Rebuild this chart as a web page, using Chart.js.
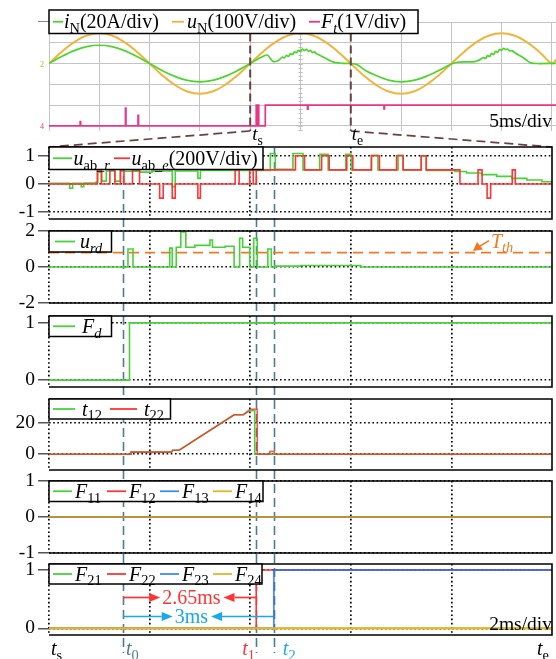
<!DOCTYPE html>
<html>
<head>
<meta charset="utf-8">
<script src="https://cdn.jsdelivr.net/npm/chart.js@4.4.0/dist/chart.umd.min.js"></script>
<style>
  html, body { margin: 0; padding: 0; background: #fff; }
  #wrap { position: relative; width: 556px; height: 659px; overflow: hidden; background: #fff; }
  #wrap canvas { position: absolute; left: 0; top: 0; }
</style>
</head>
<body>
<div id="wrap"></div>
<script>
// ---------------- overview record (5 ms/div), time in ms ----------------
const scopeT = [0,1.25,2.5,3.75,5,6.25,7.5,8.75,10,11.25,12.5,13.75,15,16.25,17.5,18.75,20,
  21.25,22.5,23.75,25,26.25,27.5,28.75,30,31.25,32.5,33.75,35,36.25,37.5,38.75,40,
  41.25,42.5,43.75,45,46.25,47.5,48.75,50,50.4];
// grid voltage u_N in V (100 V/div)
const uN = [0,56,103,135,146,135,103,56,0,-56,-103,-135,-146,-135,-103,-56,0,
  56,103,135,146,135,103,56,0,-56,-103,-135,-146,-135,-103,-56,0,
  56,103,135,146,135,103,56,0,18];
// grid current i_N in A (20 A/div)
const iNT = [0,1.25,2.5,3.75,5,6.25,7.5,8.75,10,11.25,12.5,13.75,15,16.25,17.5,18.75,20,
  20.6,21.2,21.7,22.0,22.3,22.8,23.2,23.4,23.6,23.8,24.0,24.2,24.4,24.6,24.8,25.0,25.2,25.4,25.6,25.8,26.0,26.2,26.4,26.6,
  27.0,27.5,28.0,28.5,29.2,30,30.6,31.5,32.5,33.75,35,36.25,37.5,38.75,40,
  40.6,41.5,42.3,42.8,43.2,43.4,43.6,43.8,44.0,44.2,44.4,44.6,44.8,45.0,45.2,45.4,45.6,45.8,46.0,46.4,47.0,47.5,47.9,48.5,50.4];
const iN = [0,6.7,12.4,16.3,17.6,16.3,12.4,6.7,0,-6.7,-12.4,-16.3,-17.6,-16.3,-12.4,-6.7,0,
  3.5,6.5,8.2,5,1.8,3,6.2,5.4,7.8,6.8,9.5,8.6,11.2,10.4,12.8,11.9,13.8,12.6,13.6,11.8,12.6,10.6,11.2,9.4,
  7.5,5,2.5,0.8,0.2,0,-1,-7,-11.5,-16,-17.6,-16.3,-12.4,-6.7,-0.5,
  1.2,1.6,1.8,3.5,5.8,5,7.6,6.8,9.6,8.8,11.6,10.8,13.6,12.8,14.6,13.4,13.9,12.2,12.4,9.8,6.5,3,0.6,0,0.2];
// trip signal F_t in V (1 V/div)
const FtT = [0,3.1,3.15,7.6,7.65,8.85,8.9,20.6,20.65,20.8,20.85,21.5,25.7,25.75,33.3,33.35,50.4];
const Ft  = [0,0.2,0,0.85,0,0.5,0,1.0,0,1.0,0,1.0,0.8,1.0,0.82,1.0,1.0];

// window shown below: t_s .. t_e on the overview record (ms)
const tS = 20, tE = 30;
// event instants inside the window (ms after t_s)
const markT = { t0: 1.47, t1: 4.12, t2: 4.47 };
const windowMs = 10;

// ---------------- zoomed window, 2 ms/div, time in ms after t_s ----------------
// u_ab_e (red) and u_ab_r (green), 200 V/div
const uabeT = [0,0.96,1.04,1.21,1.31,1.42,1.49,1.66,1.80,2.20,2.27,2.45,2.51,2.96,3.01,3.70,3.78,3.99,4.06,4.12,
  4.90,5.08,5.42,5.57,5.92,6.04,6.41,6.57,6.91,7.04,7.40,7.50,8.17,8.53,8.61,8.71,8.78,9.21,9.27,10];
const uabe  = [0,0.5,0,0.5,0,0.5,0,0.5,0,-0.5,0,-0.5,0,-0.5,0,0.5,0,0.5,0,0.5,
  1,0.5,1,0.5,1,0.5,1,0.5,1,0.5,1,0.5,0,0.5,0,-0.5,0,0.5,0,0];
const uabrT = [0,0.41,0.47,0.64,0.69,0.93,0.97,1.05,1.14,1.31,1.42,1.80,2.05,2.45,2.51,2.96,3.01,
  4.40,4.50,4.85,5.05,5.38,5.55,5.90,6.01,6.41,6.54,6.94,7.04,7.40,7.50,8.07,8.3,8.6,8.9,9.2,9.5,9.8,10];
const uabr  = [0.02,-0.15,0.02,-0.1,0.03,0.06,0.42,0.1,0.46,0.1,0.45,0.42,0.46,-0.1,0.46,0.2,0.48,
  1.08,0.52,1.08,0.5,1.05,0.5,1.05,0.5,1.02,0.5,1.02,0.5,1.0,0.48,0.44,0.39,0.33,0.27,0.2,0.14,0.08,0.06];
// detection residual u_rd and its threshold
const urdT = [0,1.57,1.67,2.40,2.45,2.53,2.62,2.72,2.9,3.2,3.25,3.5,3.68,3.79,3.85,3.99,4.07,4.14,4.35,4.42,4.49,5.0,6.2,10];
const urd  = [0,1.0,0,1.05,0,1.1,1.95,1.1,1.2,1.5,1.1,1.15,0,1.6,1.1,0,1.6,0,1.0,0,0.05,0.08,0,0];
const Tth = 0.8;
// fault detection flag
const FdT = [0,1.60,10];
const Fd  = [0,1,1];
// fault timers t12 (green) and t22 (red)
const t22T = [0,1.63,1.63,2.43,2.46,2.58,2.62,3.68,3.86,4.00,4.14,4.14,4.39,4.39,4.48,4.48,10];
const t22  = [0,0,1.3,1.3,2.5,2.5,3.2,25,25,28.5,28.5,0,0,1.7,1.7,0,0];
const t12T = [0,1.63,1.63,2.43,2.46,2.58,2.62,3.68,3.86,4.00,4.09,4.09,10];
const t12  = [0,0,1.3,1.3,2.5,2.5,3.2,25,25,27.6,27.6,0,0];
// location flags of the first and second leg
const F1xT = [0,10];
const F11 = [0,0], F12 = [0,0], F13 = [0,0], F14 = [0,0];
const F2xT = [0,10];
const F21 = [0,0], F24 = [0,0];
const F22T = [0,markT.t1,10], F22 = [0,1,1];
const F23T = [0,markT.t2,10], F23 = [0,1,1];

// ---------------- styling ----------------
const W = 556, H = 659;
const SERIF = '"Liberation Serif","Times New Roman",serif';
const C = {
  green: '#47d13a', red: '#ff3535', redSoft: 'rgba(255,45,45,0.82)', blue: 'rgba(40,110,240,0.8)', blueSolid: '#3b8cf0',
  gold: '#e6b52a', olive: 'rgba(190,150,45,0.9)', orange: '#f07a20', tline: '#4e7d8f', arrowBlue: '#18a8ec',
  brown: '#6b4040', iN: '#4bd62c', uN: '#f2b33a', Ft: '#e83585', grid: '#c4c4c4'
};
const AREA = {
  top: { left: 49, right: 556, top: 22, bottom: 131 },
  p1: { top: 147, bottom: 219 },
  p2: { top: 231, bottom: 303 },
  p3: { top: 316, bottom: 387 },
  p4: { top: 399, bottom: 470 },
  p5: { top: 481, bottom: 553 },
  p6: { top: 564, bottom: 635 }
};
const LOW_L = 49, LOW_R = 552;

const pts = (T, V, k = 1, off = 0) => T.map((t, i) => ({ x: t, y: V[i] / k + off }));
function series(color, data, extra) {
  return Object.assign({ data, borderColor: color, backgroundColor: color, borderWidth: 1.6,
    pointRadius: 0, fill: false, tension: 0 }, extra || {});
}

// text with italic parts and subscripts: styles 'i' italic, 'r' roman, 's' sub roman, 'si' sub italic
function drawRich(ctx, parts, x, y, size, color) {
  let cx = x;
  ctx.fillStyle = color;
  ctx.textAlign = 'left';
  ctx.textBaseline = 'alphabetic';
  for (const [txt, st] of parts) {
    const sub = st[0] === 's';
    const it = st.indexOf('i') >= 0;
    const fs = sub ? size * 0.72 : size;
    ctx.font = (it ? 'italic ' : '') + fs + 'px ' + SERIF;
    ctx.fillText(txt, cx, y + (sub ? size * 0.24 : 0));
    cx += ctx.measureText(txt).width;
  }
  return cx;
}

function drawLegend(ctx, chart, lg) {
  const [x1, y1, x2, y2] = lg.box;
  ctx.save();
  ctx.setLineDash([]);
  ctx.fillStyle = '#fff';
  ctx.fillRect(x1, y1, x2 - x1, y2 - y1);
  ctx.strokeStyle = '#000';
  ctx.lineWidth = 1.5;
  ctx.strokeRect(x1, y1, x2 - x1, y2 - y1);
  const cy = (y1 + y2) / 2;
  for (const it of lg.items) {
    const ds = chart.data.datasets[it.ds];
    ctx.strokeStyle = it.color || ds.borderColor;
    ctx.lineWidth = 1.8;
    ctx.beginPath(); ctx.moveTo(it.from, cy); ctx.lineTo(it.to, cy); ctx.stroke();
    drawRich(ctx, it.parts, it.tx, cy + lg.size * 0.33, lg.size, '#000');
  }
  ctx.restore();
}

function decorPlugin(spec) {
  return {
    id: 'decor',
    beforeDatasetsDraw(chart) { if (spec.under) { chart.ctx.save(); spec.under(chart); chart.ctx.restore(); } },
    afterDatasetsDraw(chart) {
      const ctx = chart.ctx, a = chart.chartArea;
      ctx.save();
      if (spec.frame) {
        ctx.setLineDash([]);
        ctx.strokeStyle = '#000'; ctx.lineWidth = 1.6;
        ctx.beginPath();
        ctx.moveTo(a.left, a.top); ctx.lineTo(a.right, a.top);
        ctx.lineTo(a.right, a.bottom); ctx.lineTo(a.left, a.bottom);
        ctx.stroke();
      }
      if (spec.over) spec.over(chart);
      if (spec.legend) drawLegend(ctx, chart, spec.legend);
      if (spec.top) spec.top(chart);
      ctx.restore();
    }
  };
}

const wrap = document.getElementById('wrap');
function addCanvas() {
  const c = document.createElement('canvas');
  c.width = W; c.height = H;
  c.style.width = W + 'px'; c.style.height = H + 'px';
  wrap.appendChild(c);
  return c.getContext('2d');
}

function lowerOptions(area, yMin, yMax, yTicks) {
  return {
    responsive: false, animation: false, devicePixelRatio: 1,
    layout: { padding: { left: 0, right: W - LOW_R, top: area.top, bottom: H - area.bottom } },
    plugins: { legend: { display: false }, tooltip: { enabled: false } },
    scales: {
      x: {
        type: 'linear', min: 0, max: windowMs,
        afterFit: s => { s.height = 0; },
        afterBuildTicks: s => { s.ticks = [0, 2, 4, 6, 8].map(v => ({ value: v })); },
        ticks: { display: false },
        grid: { color: '#000', lineWidth: 1.7, drawTicks: false },
        border: { display: false, dash: [1.6, 2.6] }
      },
      y: {
        type: 'linear', min: yMin, max: yMax,
        afterFit: s => { s.width = LOW_L; },
        afterBuildTicks: s => { s.ticks = yTicks.map(v => ({ value: v })); },
        ticks: { font: { family: SERIF, size: 19.5 }, color: '#000', padding: 3 },
        grid: { color: '#000', lineWidth: 1.5, tickLength: 11, tickColor: '#555', tickWidth: 1.5 },
        border: { display: false, dash: [1.6, 2.6] }
      }
    }
  };
}

// ---------------- overview chart ----------------
const ctxTop = addCanvas();
const topChart = new Chart(ctxTop, {
  type: 'line',
  data: { datasets: [
    series(C.Ft, pts(FtT, Ft, 1, -3), { stepped: 'before', borderWidth: 1.7 }),
    series(C.iN, pts(iNT, iN, 20), { tension: 0.3, borderWidth: 1.7 }),
    series(C.uN, pts(scopeT, uN, 100), { tension: 0.4, borderWidth: 2 })
  ] },
  options: {
    responsive: false, animation: false, devicePixelRatio: 1,
    layout: { padding: { left: 0, right: W - AREA.top.right, top: AREA.top.top, bottom: H - AREA.top.bottom } },
    plugins: { legend: { display: false }, tooltip: { enabled: false } },
    scales: {
      x: { type: 'linear', min: 0, max: 50.4, afterFit: s => { s.height = 0; },
        afterBuildTicks: s => { s.ticks = [0,5,10,15,20,25,30,35,40,45,50].map(v => ({ value: v })); },
        ticks: { display: false }, grid: { color: C.grid, lineWidth: 1, drawTicks: false }, border: { display: false } },
      y: { type: 'linear', min: -3.25, max: 2, afterFit: s => { s.width = AREA.top.left; },
        afterBuildTicks: s => { s.ticks = [-3,-2,-1,0,1,2].map(v => ({ value: v })); },
        ticks: { display: false }, grid: { color: C.grid, lineWidth: 1, drawTicks: false }, border: { display: false } }
    }
  },
  plugins: [decorPlugin({
    under(chart) {
      // minor graticule marks on the centre time line
      const ctx = chart.ctx, xc = Math.round(chart.scales.x.getPixelForValue(25)) + 0.5, y = chart.scales.y;
      ctx.strokeStyle = '#bdbdbd'; ctx.lineWidth = 1;
      ctx.beginPath();
      for (let v = -3.2; v <= 2; v += 0.2) {
        const py = Math.round(y.getPixelForValue(v)) + 0.5;
        ctx.moveTo(xc - 2, py); ctx.lineTo(xc + 2, py);
      }
      ctx.stroke();
    },
    over(chart) {
      const ctx = chart.ctx, x = chart.scales.x, a = chart.chartArea;
      // channel markers
      ctx.strokeStyle = '#7a8a9a'; ctx.lineWidth = 1;
      ctx.beginPath(); ctx.moveTo(38, 21.5); ctx.lineTo(49, 21.5); ctx.stroke();
      ctx.font = '8px ' + SERIF; ctx.textAlign = 'left';
      ctx.fillStyle = '#b0c020'; ctx.fillText('2', 40, chart.scales.y.getPixelForValue(0) + 3);
      ctx.fillStyle = C.Ft; ctx.fillText('4', 40, chart.scales.y.getPixelForValue(-3) + 3);
      // window bounds t_s, t_e and lines to the zoomed panels
      const xs = x.getPixelForValue(tS), xe = x.getPixelForValue(tE);
      ctx.strokeStyle = C.brown; ctx.lineWidth = 2; ctx.setLineDash([8, 4]);
      ctx.beginPath();
      ctx.moveTo(xs, 33.5); ctx.lineTo(xs, a.bottom);
      ctx.moveTo(xe, 33.5); ctx.lineTo(xe, a.bottom);
      ctx.stroke();
      ctx.lineWidth = 1.7; ctx.setLineDash([9, 5]);
      ctx.beginPath();
      ctx.moveTo(xs, a.bottom); ctx.lineTo(LOW_L, AREA.p1.top);
      ctx.moveTo(xe, a.bottom); ctx.lineTo(LOW_R, AREA.p1.top);
      ctx.stroke();
      ctx.setLineDash([]);
      drawRich(ctx, [['t', 'i'], ['s', 's']], xs + 2, 140, 19, '#000');
      drawRich(ctx, [['t', 'i'], ['e', 's']], xe + 1, 140, 19, '#000');
      ctx.font = '19.5px ' + SERIF; ctx.fillStyle = '#000'; ctx.textAlign = 'right';
      ctx.fillText('5ms/div', 552, 126.5);
    },
    legend: { box: [49, 10, 418, 33.5], size: 20, items: [
      { ds: 1, from: 53, to: 63, tx: 64, parts: [['i', 'i'], ['N', 's'], ['(20A/div)', 'r']] },
      { ds: 2, from: 172, to: 184, tx: 187, parts: [['u', 'i'], ['N', 's'], ['(100V/div)', 'r']] },
      { ds: 0, from: 309, to: 320, tx: 321, parts: [['F', 'i'], ['t', 'si'], ['(1V/div)', 'r']] }
    ] }
  })]
});

// ---------------- panel 1: u_ab ----------------
const ctx1 = addCanvas();
const p1 = new Chart(ctx1, {
  type: 'line',
  data: { datasets: [
    series(C.red, pts(uabeT, uabe), { stepped: 'before' }),
    series(C.green, pts(uabrT, uabr), { stepped: 'before' })
  ] },
  options: lowerOptions(AREA.p1, -1.24, 1.31, [-1, 0, 1]),
  plugins: [decorPlugin({
    frame: true,
    under(chart) {
      // event instants t0, t1, t2 through all zoomed panels
      const ctx = chart.ctx, x = chart.scales.x;
      ctx.strokeStyle = C.tline; ctx.lineWidth = 1.6; ctx.setLineDash([9, 5]);
      ctx.beginPath();
      for (const k of ['t0', 't1', 't2']) {
        const px = Math.round(x.getPixelForValue(markT[k])) + 0.5;
        ctx.moveTo(px, AREA.p1.top + 1); ctx.lineTo(px, 653);
      }
      ctx.stroke();
    },
    legend: { box: [49, 147, 263, 169.5], size: 20, items: [
      { ds: 1, from: 53, to: 72, tx: 73.5, parts: [['u', 'i'], ['ab_', 's'], ['r', 'si']] },
      { ds: 0, from: 114, to: 130, tx: 131.5, parts: [['u', 'i'], ['ab_', 's'], ['e', 'si'], ['(200V/div)', 'r']] }
    ] }
  })]
});

// ---------------- panel 2: u_rd ----------------
const ctx2 = addCanvas();
const p2 = new Chart(ctx2, {
  type: 'line',
  data: { datasets: [
    series(C.green, pts(urdT, urd), { stepped: 'before' }),
    series(C.orange, pts([0, windowMs], [Tth, Tth]), { borderDash: [10, 6], borderWidth: 1.8 })
  ] },
  options: lowerOptions(AREA.p2, -2, 2, [-2, 0, 2]),
  plugins: [decorPlugin({
    frame: true,
    over(chart) {
      const ctx = chart.ctx, y = chart.scales.y.getPixelForValue(Tth);
      ctx.strokeStyle = C.orange; ctx.fillStyle = C.orange; ctx.lineWidth = 1.6; ctx.setLineDash([]);
      const tipX = 473, tipY = y - 1.5, sx = 489, sy = y - 12;
      ctx.beginPath(); ctx.moveTo(sx, sy); ctx.lineTo(tipX + 6, tipY - 4.5); ctx.stroke();
      ctx.beginPath(); ctx.moveTo(tipX, tipY); ctx.lineTo(tipX + 4, tipY - 9); ctx.lineTo(tipX + 10, tipY - 1.5); ctx.closePath(); ctx.fill();
      drawRich(ctx, [['T', 'i'], ['th', 'si']], 491, y - 5, 20, C.orange);
    },
    legend: { box: [49, 231, 111.5, 252], size: 20, items: [
      { ds: 0, from: 55, to: 75, tx: 80, parts: [['u', 'i'], ['rd', 'si']] }
    ] }
  })]
});

// ---------------- panel 3: F_d ----------------
const ctx3 = addCanvas();
const p3 = new Chart(ctx3, {
  type: 'line',
  data: { datasets: [ series(C.green, pts(FdT, Fd), { stepped: 'before' }) ] },
  options: lowerOptions(AREA.p3, -0.12, 1.12, [0, 1]),
  plugins: [decorPlugin({
    frame: true,
    legend: { box: [49, 316, 111.5, 336.5], size: 20, items: [
      { ds: 0, from: 53, to: 75, tx: 82, parts: [['F', 'i'], ['d', 'si']] }
    ] }
  })]
});

// ---------------- panel 4: t12, t22 ----------------
const ctx4 = addCanvas();
const p4 = new Chart(ctx4, {
  type: 'line',
  data: { datasets: [
    series(C.redSoft, pts(t22T, t22)),
    series(C.green, pts(t12T, t12))
  ] },
  options: lowerOptions(AREA.p4, -10, 35, [0, 20]),
  plugins: [decorPlugin({
    frame: true,
    legend: { box: [49, 399, 170.5, 419], size: 20, items: [
      { ds: 1, from: 53, to: 75, tx: 82, parts: [['t', 'i'], ['12', 's']] },
      { ds: 0, from: 110, to: 137, tx: 144, color: C.red, parts: [['t', 'i'], ['22', 's']] }
    ] }
  })]
});

// ---------------- panel 5: F11..F14 ----------------
const ctx5 = addCanvas();
const p5 = new Chart(ctx5, {
  type: 'line',
  data: { datasets: [
    series(C.olive, pts(F1xT, F14), { borderWidth: 2.2 }),
    series(C.blueSolid, pts(F1xT, F13)),
    series(C.red, pts(F1xT, F12)),
    series(C.green, pts(F1xT, F11))
  ] },
  options: lowerOptions(AREA.p5, -1, 1, [-1, 0, 1]),
  plugins: [decorPlugin({
    frame: true,
    legend: { box: [49, 481, 263, 501.5], size: 20, items: [
      { ds: 3, from: 53, to: 72, tx: 75, parts: [['F', 'i'], ['11', 's']] },
      { ds: 2, from: 107, to: 126, tx: 129, parts: [['F', 'i'], ['12', 's']] },
      { ds: 1, from: 160, to: 179, tx: 182, parts: [['F', 'i'], ['13', 's']] },
      { ds: 0, from: 213, to: 232, tx: 235, color: C.gold, parts: [['F', 'i'], ['14', 's']] }
    ] }
  })]
});

// ---------------- panel 6: F21..F24 ----------------
const ctx6 = addCanvas();
const p6 = new Chart(ctx6, {
  type: 'line',
  data: { datasets: [
    series(C.gold, pts(F2xT, F24), { borderWidth: 2.2 }),
    series(C.blue, pts(F23T, F23), { stepped: 'before', borderWidth: 1.8 }),
    series(C.red, pts(F22T, F22), { stepped: 'before' }),
    series(C.green, pts(F2xT, F21))
  ] },
  options: lowerOptions(AREA.p6, -0.115, 1.103, [0, 1]),
  plugins: [decorPlugin({
    frame: true,
    legend: { box: [49, 564, 262, 584], size: 20, items: [
      { ds: 3, from: 53, to: 72, tx: 75, parts: [['F', 'i'], ['21', 's']] },
      { ds: 2, from: 107, to: 126, tx: 129, parts: [['F', 'i'], ['22', 's']] },
      { ds: 1, from: 160, to: 179, tx: 182, color: C.blueSolid, parts: [['F', 'i'], ['23', 's']] },
      { ds: 0, from: 213, to: 232, tx: 235, parts: [['F', 'i'], ['24', 's']] }
    ] },
    top(chart) {
      const ctx = chart.ctx, x = chart.scales.x;
      const x0 = x.getPixelForValue(markT.t0), x1 = x.getPixelForValue(markT.t1), x2 = x.getPixelForValue(markT.t2);
      const labelX = x.getPixelForValue(2.83);
      function arrowTo(xa, xb, y, color) {
        const dir = Math.sign(xb - xa), hl = 11, hw = 4.5;
        ctx.strokeStyle = color; ctx.fillStyle = color; ctx.lineWidth = 1.7; ctx.setLineDash([]);
        ctx.beginPath(); ctx.moveTo(xa, y); ctx.lineTo(xb - dir * hl, y); ctx.stroke();
        ctx.beginPath(); ctx.moveTo(xb, y); ctx.lineTo(xb - dir * hl, y - hw); ctx.lineTo(xb - dir * hl, y + hw); ctx.closePath(); ctx.fill();
      }
      function span(xa, xb, y, text, color) {
        ctx.font = '20px ' + SERIF;
        const w = ctx.measureText(text).width;
        const l = labelX - w / 2, r = labelX + w / 2;
        arrowTo(xa, l - 2, y, color);
        arrowTo(xb, r + 3, y, color);
        ctx.fillStyle = color; ctx.textAlign = 'left'; ctx.textBaseline = 'middle';
        ctx.fillText(text, l, y + 1);
        ctx.textBaseline = 'alphabetic';
      }
      span(x0, x1, 597.5, (+(markT.t1 - markT.t0).toFixed(2)) + 'ms', C.red);
      span(x0, x2, 616.5, (+(markT.t2 - markT.t0).toFixed(2)) + 'ms', C.arrowBlue);
      ctx.font = '19.5px ' + SERIF; ctx.fillStyle = '#000'; ctx.textAlign = 'right';
      ctx.fillText('2ms/div', 552, 629.5);
      // time labels under the panels
      drawRich(ctx, [['t', 'i'], ['s', 's']], x.getPixelForValue(0) + 2, 655, 20, '#000');
      drawRich(ctx, [['t', 'i'], ['0', 's']], x0 + 3, 655, 20, C.tline);
      drawRich(ctx, [['t', 'i'], ['1', 's']], x1 - 14, 655, 20, C.red);
      drawRich(ctx, [['t', 'i'], ['2', 's']], x2 + 9, 655, 20, C.arrowBlue);
      drawRich(ctx, [['t', 'i'], ['e', 's']], x.getPixelForValue(windowMs) - 15, 655, 20, '#000');
    }
  })]
});
</script>
</body>
</html>
